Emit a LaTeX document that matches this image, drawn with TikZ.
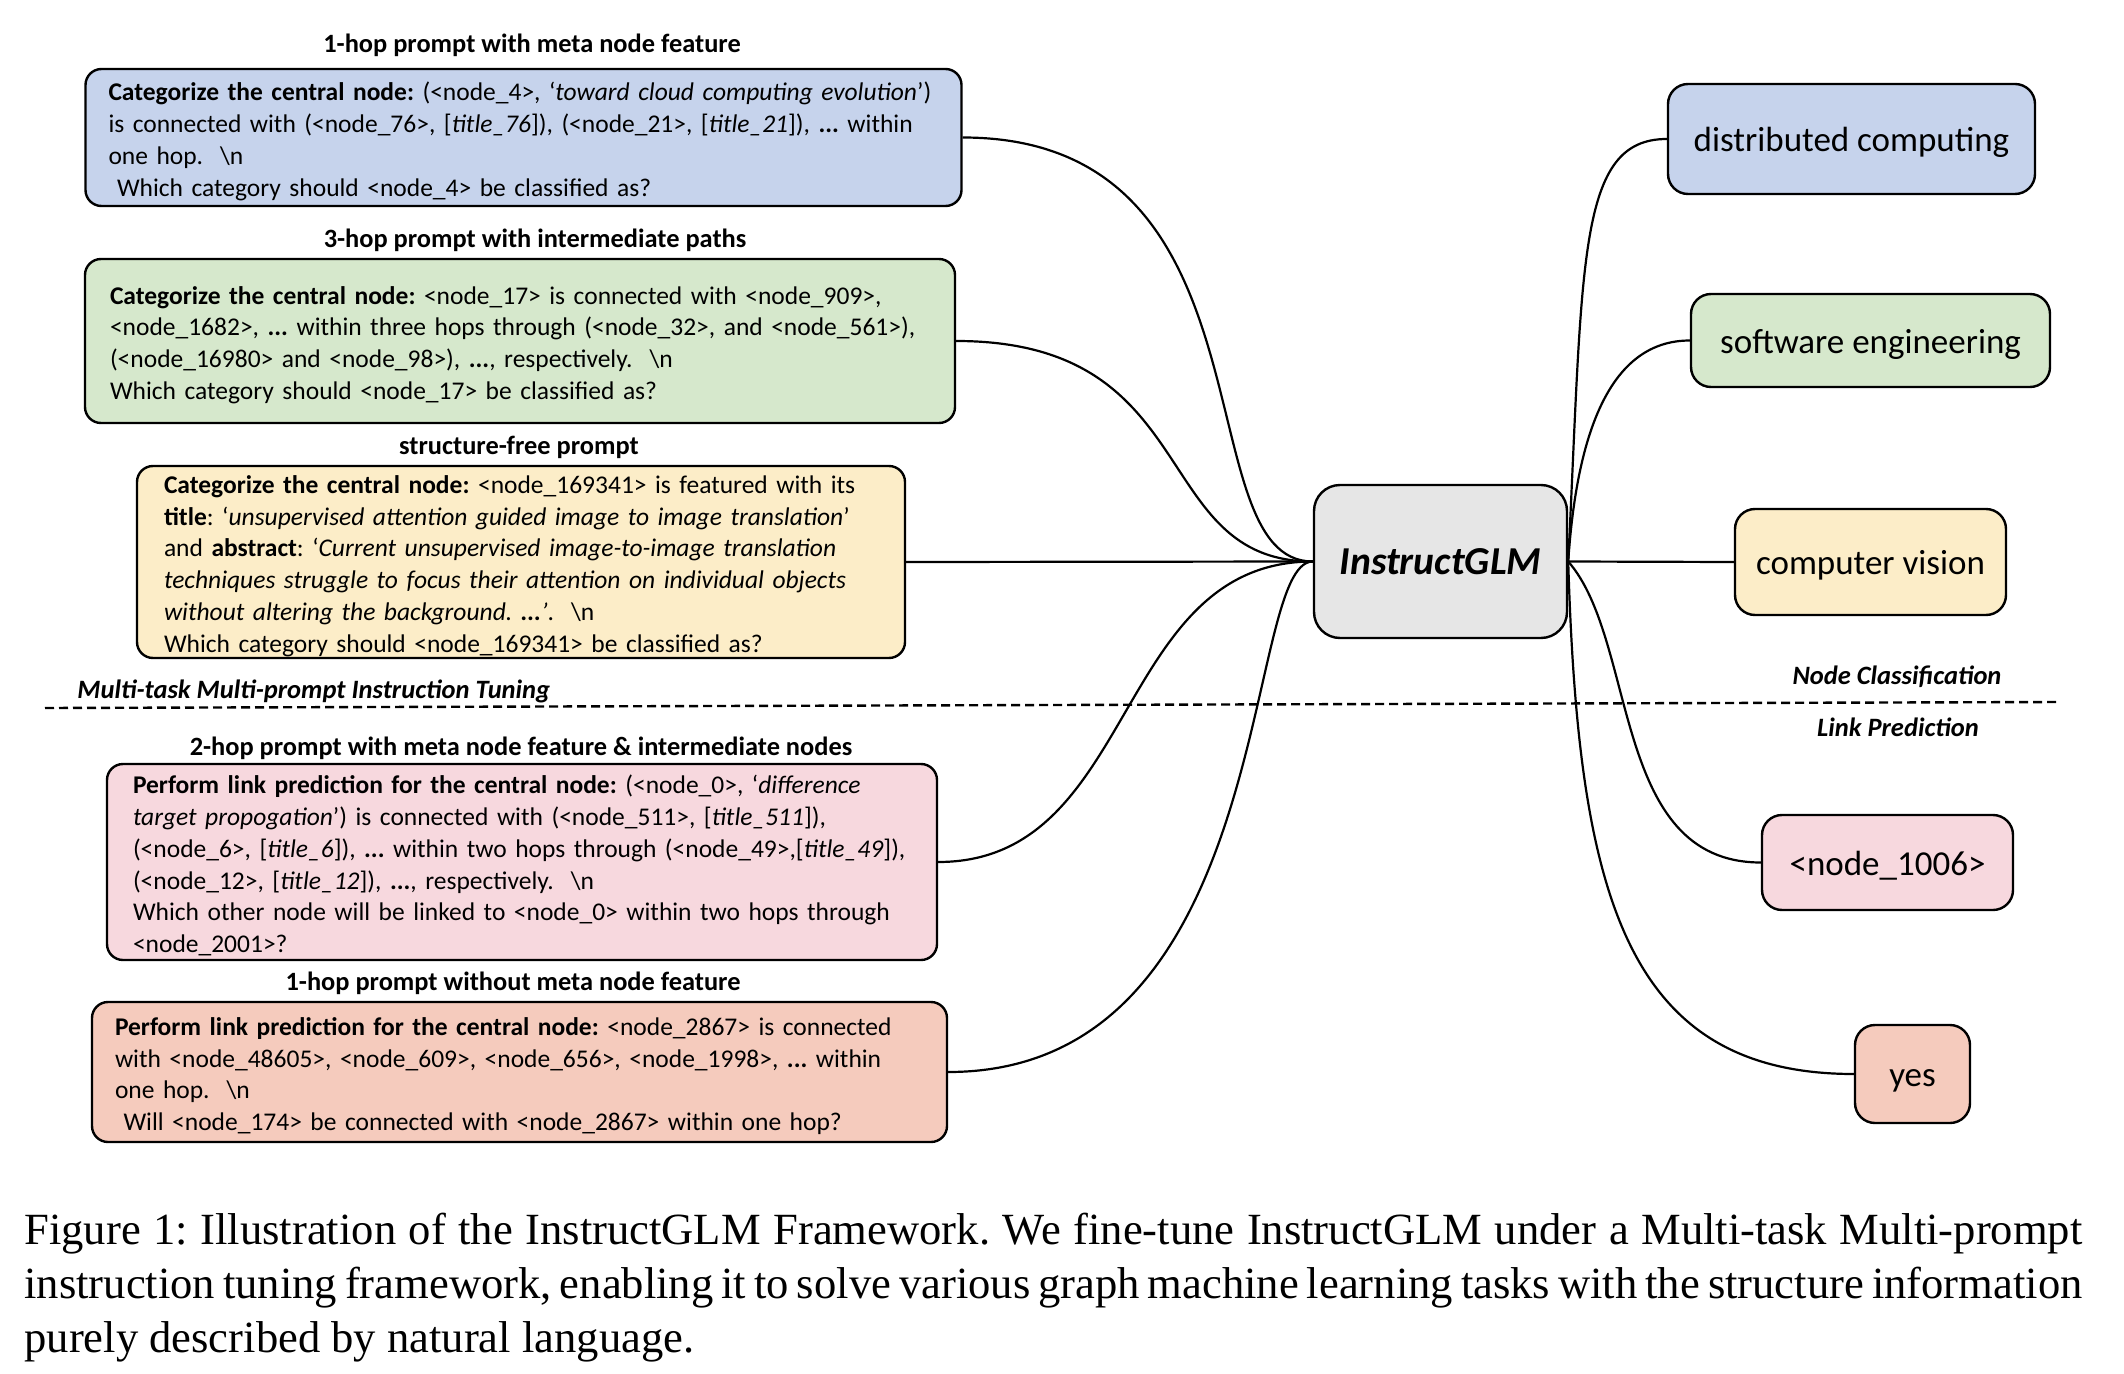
\documentclass[tikz,border=0pt]{standalone}
\usepackage{fontspec}
\setmainfont{Carlito}
\newfontfamily\captionfont{Liberation Serif}
\frenchspacing
\definecolor{hopblue}{RGB}{198,211,236}
\definecolor{hopgreen}{RGB}{214,232,204}
\definecolor{freeyellow}{RGB}{252,237,200}
\definecolor{linkpink}{RGB}{247,216,222}
\definecolor{linksalmon}{RGB}{245,203,189}
\definecolor{glmgray}{RGB}{230,230,230}

\begin{document}
\begin{tikzpicture}[
    x=0.5pt, y=-0.5pt,
    prompt/.style={draw=black, line width=1.2pt, rounded corners=8pt, align=left, inner ysep=0pt, font=\fontsize{12.75}{15.9}\selectfont, execute at begin node={\rule{0pt}{13pt}\ignorespaces}},
    header/.style={font=\bfseries\fontsize{13.2}{15}\selectfont, inner sep=0pt},
    answer/.style={draw=black, line width=1.2pt, rounded corners=10pt, font=\fontsize{17.5}{21}\selectfont, inner sep=0pt, text height=16pt, text depth=3.2pt},
    task/.style={font=\bfseries\itshape\fontsize{13.25}{15}\selectfont, inner sep=0pt},
    link/.style={line width=1.1pt}
]

% Page
\useasboundingbox (0,0) rectangle (2124,1374);

% Node classification prompts
\node[header] at (532,45) {1-hop prompt with meta node feature};
\node[prompt, fill=hopblue, text width=415pt, inner xsep=11.5pt, minimum height=68.5pt] (P1HOP) at (523.5,137.5) {
    \textbf{Categorize the central node:} (<node\_4>, ‘\textit{toward cloud computing evolution}’)\\
    is connected with (<node\_76>, [\textit{title\_76}]), (<node\_21>, [\textit{title\_21}]), \textbf{...} within\\
    one hop.\ \ \textbackslash n\\
    \ Which category should <node\_4> be classified as?
};

\node[header] at (535,240) {3-hop prompt with intermediate paths};
\node[prompt, fill=hopgreen, text width=410pt, inner xsep=12.5pt, minimum height=82pt] (P3HOP) at (520,341) {
    \textbf{Categorize the central node:} <node\_17> is connected with <node\_909>,\\
    <node\_1682>, \textbf{...} within three hops through (<node\_32>, and <node\_561>),\\
    (<node\_16980> and <node\_98>), \textbf{...}, respectively.\ \ \textbackslash n\\
    Which category should <node\_17> be classified as?
};

\node[header] at (519,447) {structure-free prompt};
\node[prompt, fill=freeyellow, text width=357pt, inner xsep=13.5pt, minimum height=96pt] (PFREE) at (521,562) {
    \textbf{Categorize the central node:} <node\_169341> is featured with its\\
    \textbf{title}: ‘\textit{unsupervised attention guided image to image translation}’\\
    and \textbf{abstract}: ‘\textit{Current unsupervised image-to-image translation}\\
    \textit{techniques struggle to focus their attention on individual objects}\\
    \textit{without altering the background. \textbf{...}’}.\ \ \textbackslash n\\
    Which category should <node\_169341> be classified as?
};

% Task separator
\node[task, anchor=west] at (77,691) {Multi-task Multi-prompt Instruction Tuning};
\draw[line width=1.2pt, dash pattern=on 4.5pt off 2.5pt] (45,708) -- (2059,702);
\node[task] at (1897,677) {Node Classification};
\node[task] at (1898,727) {Link Prediction};

% Link prediction prompts
\node[header] at (521,748) {2-hop prompt with meta node feature \& intermediate nodes};
\node[prompt, fill=linkpink, text width=389pt, inner xsep=13pt, minimum height=98pt] (P2HOP) at (522,862) {
    \textbf{Perform link prediction for the central node:} (<node\_0>, ‘\textit{difference}\\
    \textit{target propogation}’) is connected with (<node\_511>, [\textit{title\_511}]),\\
    (<node\_6>, [\textit{title\_6}]), \textbf{...} within two hops through (<node\_49>,[\textit{title\_49}]),\\
    (<node\_12>, [\textit{title\_12}]), \textbf{...}, respectively.\ \ \textbackslash n\\
    Which other node will be linked to <node\_0> within two hops through\\
    <node\_2001>?
};

\node[header] at (513,983) {1-hop prompt without meta node feature};
\node[prompt, fill=linksalmon, text width=404.5pt, inner xsep=11.5pt, minimum height=70pt] (P1LINK) at (519.5,1072) {
    \textbf{Perform link prediction for the central node:} <node\_2867> is connected\\
    with <node\_48605>, <node\_609>, <node\_656>, <node\_1998>, \textbf{...} within\\
    one hop.\ \ \textbackslash n\\
    \ Will <node\_174> be connected with <node\_2867> within one hop?
};

% Model
\node[draw=black, line width=1.2pt, fill=glmgray, rounded corners=13pt, minimum width=126.5pt, minimum height=76.5pt, font=\bfseries\itshape\fontsize{19.8}{22}\selectfont] (GLM) at (1440.5,561.5) {InstructGLM};

% Answers
\node[answer, fill=hopblue, minimum width=183.5pt, minimum height=55pt] (DIST) at (1851.5,139) {distributed computing};
\node[answer, fill=hopgreen, minimum width=179.5pt, minimum height=46.5pt] (SOFT) at (1870.5,340.5) {software engineering};
\node[answer, fill=freeyellow, minimum width=135.5pt, minimum height=53pt] (VISION) at (1870.5,562) {computer vision};
\node[answer, fill=linkpink, minimum width=125.5pt, minimum height=47.5pt] (N1006) at (1887.5,862.5) {<node\_1006>};
\node[answer, fill=linksalmon, minimum width=57.5pt, minimum height=49pt] (YES) at (1912.5,1074) {yes};

% Prompts into the model
\draw[link] (P1HOP.east) .. controls +(320,0) and +(-130,0) .. (GLM.west);
\draw[link] (P3HOP.east) .. controls +(250,0) and +(-165,0) .. (GLM.west);
\draw[link] (PFREE.east) -- (GLM.west);
\draw[link] (P2HOP.east) .. controls +(200,0) and +(-200,0) .. (GLM.west);
\draw[link] (P1LINK.east) .. controls +(330,0) and +(-71,0) .. (GLM.west);

% Model to answers
\draw[link] (GLM.east) .. controls +(15,-300) and +(-90,0) .. (DIST.west);
\draw[link] (GLM.east) .. controls +(10,-150) and +(-70,0) .. (SOFT.west);
\draw[link] (GLM.east) -- (VISION.west);
\draw[link] (GLM.east) .. controls +(70,80) and +(-150,0) .. (N1006.west);
\draw[link] (GLM.east) .. controls +(10,330) and +(-230,0) .. (YES.west);

% Caption
\node[anchor=north west, inner sep=0pt, text width=1029pt, align=justify, font=\captionfont\fontsize{22.3}{27}\selectfont] (CAPTION) at (24,1213) {Figure 1: Illustration of the InstructGLM Framework. We fine-tune InstructGLM under a Multi-task Multi-prompt\linebreak instruction tuning framework, enabling it to solve various graph machine learning tasks with the structure information\linebreak purely described by natural language.};

\end{tikzpicture}
\end{document}
